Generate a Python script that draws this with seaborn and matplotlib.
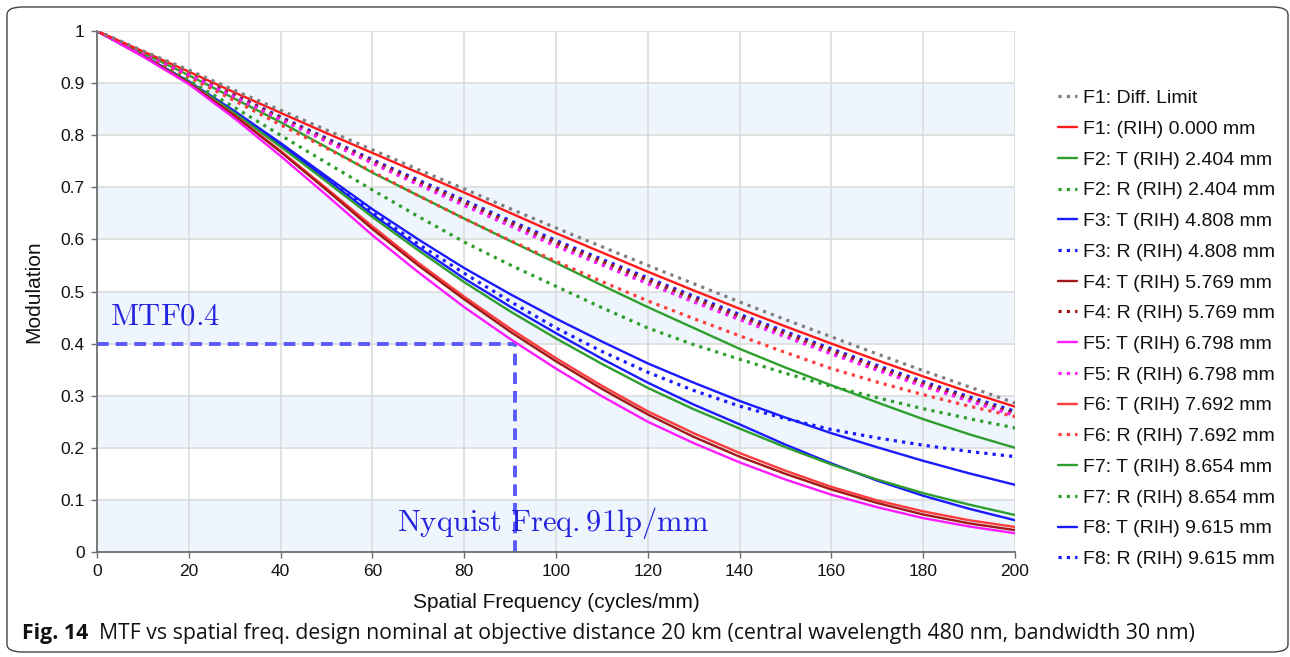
import numpy as np
import pandas as pd
import matplotlib
matplotlib.use('Agg')
import matplotlib.pyplot as plt
import seaborn as sns
from matplotlib.patches import FancyBboxPatch

# данные (значения MTF через каждые 10 циклов/мм)
freq = list(range(0, 201, 10))

diff_limit = [1, .962, .925, .886, .848, .810, .772, .734, .697, .659, .622,
              .586, .550, .515, .480, .446, .413, .380, .348, .317, .286]
f1_rih = [1, .961, .922, .882, .843, .804, .766, .728, .690, .651, .612,
          .575, .538, .502, .467, .433, .400, .368, .337, .307, .279]
f2_t = [1, .958, .915, .870, .825, .777, .728, .684, .640, .597, .555,
        .512, .470, .430, .390, .354, .320, .287, .255, .226, .200]
f2_r = [1, .959, .917, .875, .832, .790, .748, .708, .668, .629, .590,
        .553, .517, .482, .448, .415, .382, .351, .320, .292, .265]
f3_t = [1, .953, .903, .846, .785, .721, .658, .600, .545, .495, .448,
        .404, .362, .325, .290, .258, .228, .201, .175, .151, .129]
f3_r = [1, .959, .918, .877, .835, .794, .753, .714, .675, .636, .598,
        .562, .526, .491, .456, .423, .390, .358, .327, .298, .270]
f4_t = [1, .952, .900, .837, .768, .695, .620, .550, .485, .423, .366,
        .313, .264, .221, .183, .150, .120, .094, .072, .055, .042]
f4_r = [1, .959, .917, .875, .833, .791, .750, .710, .671, .632, .594,
        .558, .522, .487, .452, .419, .386, .354, .323, .294, .266]
f5_t = [1, .951, .898, .832, .760, .685, .608, .537, .470, .409, .352,
        .299, .250, .209, .172, .139, .110, .086, .065, .049, .036]
f5_r = [1, .958, .916, .873, .830, .788, .746, .705, .665, .626, .587,
        .551, .515, .480, .446, .413, .380, .349, .318, .290, .262]
f6_t = [1, .952, .900, .838, .770, .698, .625, .555, .490, .429, .372,
        .319, .270, .228, .190, .156, .125, .099, .078, .061, .048]
f6_r = [1, .957, .912, .866, .820, .775, .730, .684, .640, .598, .558,
        .519, .482, .448, .415, .383, .352, .326, .302, .280, .260]
f7_t = [1, .952, .902, .842, .778, .711, .643, .579, .518, .462, .410,
        .361, .315, .274, .237, .201, .168, .139, .113, .091, .071]
f7_r = [1, .954, .905, .853, .800, .747, .695, .644, .595, .551, .510,
        .469, .430, .398, .370, .343, .318, .296, .275, .256, .238]
f8_t = [1, .953, .903, .844, .782, .716, .648, .585, .525, .471, .420,
        .371, .325, .283, .245, .206, .170, .137, .108, .083, .061]
f8_r = [1, .953, .903, .844, .782, .717, .652, .591, .535, .481, .430,
        .385, .345, .310, .280, .256, .235, .219, .205, .193, .183]

labels = ['F1: Diff. Limit', 'F1: (RIH) 0.000 mm',
          'F2: T (RIH) 2.404 mm', 'F2: R (RIH) 2.404 mm',
          'F3: T (RIH) 4.808 mm', 'F3: R (RIH) 4.808 mm',
          'F4: T (RIH) 5.769 mm', 'F4: R (RIH) 5.769 mm',
          'F5: T (RIH) 6.798 mm', 'F5: R (RIH) 6.798 mm',
          'F6: T (RIH) 7.692 mm', 'F6: R (RIH) 7.692 mm',
          'F7: T (RIH) 8.654 mm', 'F7: R (RIH) 8.654 mm',
          'F8: T (RIH) 9.615 mm', 'F8: R (RIH) 9.615 mm']
series = [diff_limit, f1_rih, f2_t, f2_r, f3_t, f3_r, f4_t, f4_r,
          f5_t, f5_r, f6_t, f6_r, f7_t, f7_r, f8_t, f8_r]

nyquist = 91
mtf_level = 0.4

red = '#FF1A1A'
green = '#2E9E2E'
blue = '#1A1AFF'
brown = '#A01818'
magenta = '#FF1AFF'
red2 = '#FF3B3B'
colors = ['#7F7F7F', red, green, green, blue, blue, brown, brown,
          magenta, magenta, red2, red2, green, green, blue, blue]
dotted = (0, (1, 1.6))
styles = [dotted, '-', '-', dotted, '-', dotted, '-', dotted,
          '-', dotted, '-', dotted, '-', dotted, '-', dotted]

sns.set_theme(style='white')
plt.rcParams['font.family'] = ['Liberation Sans', 'DejaVu Sans']
plt.rcParams['mathtext.fontset'] = 'cm'

fig = plt.figure(figsize=(12.9, 6.57), dpi=100)
ax = fig.add_axes([97 / 1290, 1 - 552 / 657, (1015 - 97) / 1290, (552 - 31) / 657])

for lo in [0.0, 0.2, 0.4, 0.6, 0.8]:           # светло-голубые полосы
    ax.axhspan(lo, lo + 0.1, color='#EEF5FC', zorder=0, lw=0)

ax.set_xlim(0, 200)
ax.set_ylim(0, 1)
ax.set_xticks(range(0, 201, 20))
ax.set_yticks(np.arange(0, 1.01, 0.1))
ax.set_yticklabels(['0', '0.1', '0.2', '0.3', '0.4', '0.5', '0.6', '0.7', '0.8', '0.9', '1'])
ax.grid(True, color='#DCDCDC', lw=1.2, zorder=1)
ax.set_axisbelow(True)

for name in ['top', 'right']:
    ax.spines[name].set_visible(False)
for name in ['left', 'bottom']:
    ax.spines[name].set_color('#6E6E6E')
    ax.spines[name].set_linewidth(1.3)
ax.tick_params(direction='out', length=4, width=1, color='#6E6E6E', labelsize=12.5,
               labelcolor='#111111', left=True, bottom=True, pad=5)

# линии MTF0.4 / Найквист
ax.plot([0, nyquist], [mtf_level, mtf_level], color='#5A5AFF', lw=2.8,
        linestyle=(0, (3, 1.8)), zorder=2)
ax.plot([nyquist, nyquist], [0, mtf_level], color='#5A5AFF', lw=2.8,
        linestyle=(0, (3, 1.8)), zorder=2)

order = [4, 5, 14, 15, 12, 13, 2, 3, 10, 11, 6, 7, 8, 9, 1, 0]
for i in order:
    sns.lineplot(x=freq, y=series[i], ax=ax, color=colors[i], linestyle=styles[i],
                 lw=2.3 if styles[i] == dotted else 1.7, zorder=3, label=labels[i])

ax.text(2.8, 0.452, r'$\mathrm{MTF0.4}$', color='#2323E0', fontsize=22,
        ha='left', va='center', zorder=4)
ax.text(99.3, 0.056, r'$\mathrm{Nyquist\ Freq.91lp/mm}$', color='#2323E0', fontsize=22,
        ha='center', va='center', zorder=4)

handles, _ = ax.get_legend_handles_labels()
by_label = {h.get_label(): h for h in handles}
ax.legend([by_label[l] for l in labels], labels, loc='upper left',
          bbox_to_anchor=(1040 / 1290, 1 - 72 / 657), bbox_transform=fig.transFigure,
          frameon=False, fontsize=14, handlelength=1.0, handletextpad=0.3,
          labelspacing=0.675, labelcolor='#111111')

ax.set_xlabel('Spatial Frequency (cycles/mm)', fontsize=15, color='#111111', labelpad=10)
ax.set_ylabel('Modulation', fontsize=15, color='#111111', labelpad=12)

cap_y = 1 - 633 / 657
t1 = fig.text(22 / 1290, cap_y, 'Fig. 14', fontsize=14, fontweight='bold',
              family='Open Sans', va='center', ha='left', color='#111111')
t2 = fig.text(87 / 1290, cap_y,
              'MTF vs spatial freq. design nominal at objective distance 20 km '
              '(central wavelength 480 nm, bandwidth 30 nm)',
              fontsize=14, family='Open Sans', va='center', ha='left', color='#111111')
# подгоняю ширину подписи под оригинал (от 22 до 1195 px)
fig.canvas.draw()
rend = fig.canvas.get_renderer()
w1 = t1.get_window_extent(rend).width
w2 = t2.get_window_extent(rend).width
gap = 11
fs = 14 * (1173 - gap) / (w1 + w2)
t1.set_fontsize(fs)
t2.set_fontsize(fs)
t2.set_x((22 + w1 * fs / 14 + gap) / 1290)

frame = FancyBboxPatch((7 / 1290, 5 / 657), 1281 / 1290, 645 / 657,
                       boxstyle='round,pad=0,rounding_size=0.012',
                       transform=fig.transFigure, fill=False, ec='#444444', lw=1)
fig.patches.append(frame)

fig.savefig('out.png', dpi=100)
